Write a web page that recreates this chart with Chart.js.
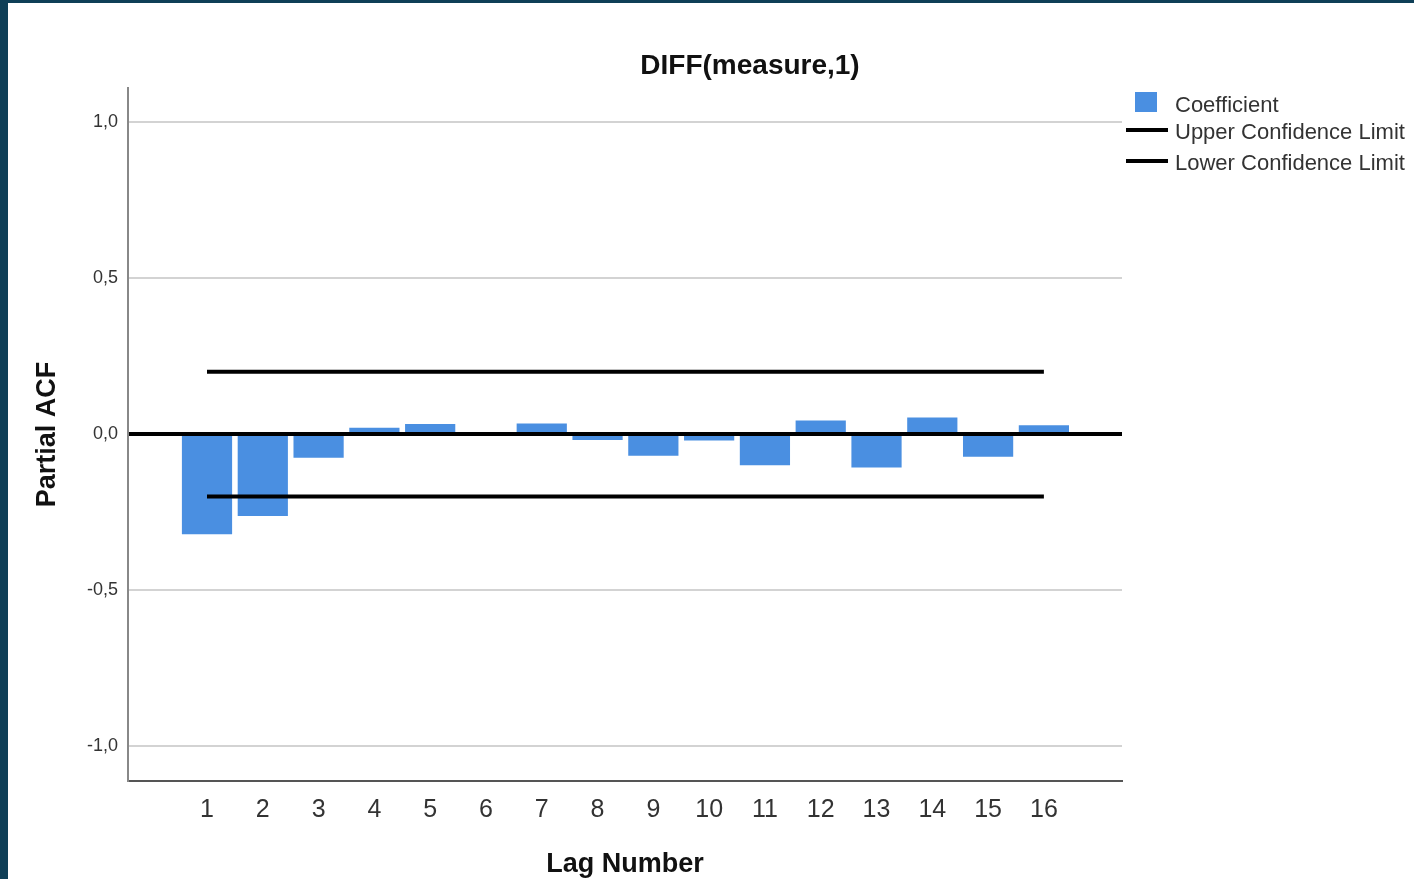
<!DOCTYPE html>
<html>
<head>
<meta charset="utf-8">
<title>DIFF(measure,1)</title>
<script src="https://cdn.jsdelivr.net/npm/chart.js@4"></script>
<style>
  html, body { margin: 0; padding: 0; background: #0f3f57; overflow: hidden; }
  #frame { position: absolute; left: 8px; top: 3px; width: 1406px; height: 876px; background: #fff; }
</style>
</head>
<body>
<div id="frame"><canvas id="myChart"></canvas></div>
<script>
// Partial autocorrelation of DIFF(measure,1)
const lags = [1, 2, 3, 4, 5, 6, 7, 8, 9, 10, 11, 12, 13, 14, 15, 16];
const coefficients = [-0.321, -0.263, -0.076, 0.020, 0.032, 0.0, 0.034, -0.019,
                      -0.070, -0.021, -0.100, 0.043, -0.107, 0.053, -0.073, 0.028];
const upperLimit = [0.2, 0.2, 0.2, 0.2, 0.2, 0.2, 0.2, 0.2, 0.2, 0.2, 0.2, 0.2, 0.2, 0.2, 0.2, 0.2];
const lowerLimit = [-0.2, -0.2, -0.2, -0.2, -0.2, -0.2, -0.2, -0.2, -0.2, -0.2, -0.2, -0.2, -0.2, -0.2, -0.2, -0.2];
const yTicks = [-1, -0.5, 0, 0.5, 1];

const FONT = '"Liberation Sans", Arial, sans-serif';
const barColor = '#4a8fe1';

// title and legend are drawn by hand to sit where SPSS puts them
const titleAndLegend = {
    id: 'titleAndLegend',
    afterDraw(chart) {
        const ctx = chart.ctx;
        const ds = chart.data.datasets;
        ctx.save();
        ctx.fillStyle = '#111';
        ctx.font = 'bold 28px ' + FONT;
        ctx.textAlign = 'center';
        ctx.textBaseline = 'alphabetic';
        ctx.fillText('DIFF(measure,1)', 742, 71);

        // legend
        ctx.fillStyle = ds[0].backgroundColor;
        ctx.fillRect(1127, 89, 22, 20);
        ctx.fillStyle = ds[1].borderColor;
        ctx.fillRect(1118, 125, 42, 4);
        ctx.fillStyle = ds[2].borderColor;
        ctx.fillRect(1118, 156, 42, 4);

        ctx.fillStyle = '#333';
        ctx.font = '22px ' + FONT;
        ctx.textAlign = 'left';
        ctx.fillText(ds[0].label, 1167, 109);
        ctx.fillText(ds[1].label, 1167, 136);
        ctx.fillText(ds[2].label, 1167, 167);
        ctx.restore();
    }
};

const ctx = document.getElementById('myChart').getContext('2d');
new Chart(ctx, {
    type: 'bar',
    data: {
        datasets: [{
            type: 'bar',
            label: 'Coefficient',
            data: lags.map((lag, i) => ({ x: lag, y: coefficients[i] })),
            backgroundColor: barColor,
            barPercentage: 0.9,
            categoryPercentage: 1,
            order: 2
        }, {
            type: 'line',
            label: 'Upper Confidence Limit',
            data: lags.map((lag, i) => ({ x: lag, y: upperLimit[i] })),
            borderColor: '#000',
            borderWidth: 4,
            borderCapStyle: 'butt',
            pointRadius: 0,
            order: 1
        }, {
            type: 'line',
            label: 'Lower Confidence Limit',
            data: lags.map((lag, i) => ({ x: lag, y: lowerLimit[i] })),
            borderColor: '#000',
            borderWidth: 4,
            borderCapStyle: 'butt',
            pointRadius: 0,
            order: 1
        }]
    },
    options: {
        responsive: true,
        maintainAspectRatio: false,
        animation: false,
        layout: { padding: { top: 85, right: 292, left: 0, bottom: 0 } },
        plugins: {
            legend: { display: false },
            tooltip: { enabled: false }
        },
        scales: {
            x: {
                type: 'linear',
                min: -0.416,
                max: 17.40,
                offset: false,
                afterBuildTicks: s => { s.ticks = lags.map(v => ({ value: v })); },
                afterFit: s => { s.height = 98; },
                grid: { display: false, offset: false },
                border: { color: '#555', width: 2 },
                ticks: {
                    autoSkip: false,
                    maxRotation: 0,
                    padding: 6,
                    color: '#333',
                    font: { family: FONT, size: 25 }
                },
                title: {
                    display: true,
                    text: 'Lag Number',
                    color: '#111',
                    font: { family: FONT, size: 27, weight: 'bold' },
                    padding: { top: 0, bottom: -2 }
                }
            },
            y: {
                min: -1.112,
                max: 1.109,
                z: 1,
                afterBuildTicks: s => { s.ticks = yTicks.map(v => ({ value: v })); },
                afterFit: s => { s.width = 120; },
                grid: {
                    drawTicks: false,
                    color: c => c.tick && c.tick.value === 0 ? '#000' : '#d3d3d3',
                    lineWidth: c => c.tick && c.tick.value === 0 ? 4 : 2
                },
                border: { color: '#888', width: 2 },
                ticks: {
                    padding: 10,
                    color: '#333',
                    font: { family: FONT, size: 18 },
                    callback: v => v.toFixed(1).replace('.', ',')
                },
                title: {
                    display: true,
                    text: 'Partial ACF',
                    color: '#111',
                    font: { family: FONT, size: 27, weight: 'bold' },
                    padding: { top: 23, bottom: 0 }
                }
            }
        }
    },
    plugins: [titleAndLegend]
});
</script>
</body>
</html>
